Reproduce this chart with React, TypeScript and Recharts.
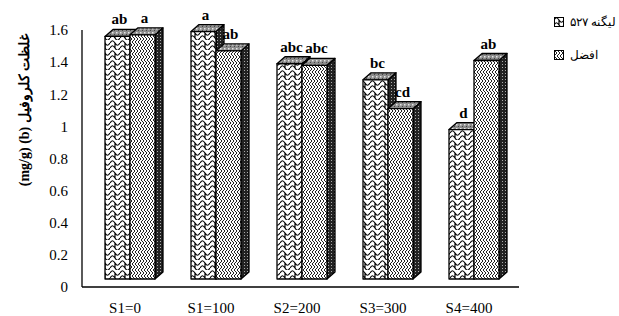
import { BarChart, Bar, XAxis, YAxis, LabelList } from "recharts";

const categories = ["S1=0", "S1=100", "S2=200", "S3=300", "S4=400"];
const ligValues = [1.56, 1.59, 1.39, 1.29, 0.98];
const afzValues = [1.57, 1.47, 1.38, 1.11, 1.41];
const ligLetters = ["ab", "a", "abc", "bc", "d"];
const afzLetters = ["a", "ab", "abc", "cd", "ab"];
const seriesNames = ["لیگنه ۵۲۷", "افضل"];
const yTicks = [0, 0.2, 0.4, 0.6, 0.8, 1, 1.2, 1.4, 1.6];

const data = categories.map((c, i) => ({
  name: c,
  lig: ligValues[i],
  afz: afzValues[i],
  ligL: ligLetters[i],
  afzL: afzLetters[i],
}));

const SHIFT = 5; // front face offset
const DX = 8; // depth to the right
const DY = 7; // depth upwards
const FLOOR = 8; // front face sits above the axis floor
const FONT = "Liberation Serif, Times New Roman, serif";

function make3D(frontFill: string) {
  return (props: any) => {
    const { x, y, width, height } = props;
    const fx = x + SHIFT;
    const fh = height - FLOOR;
    if (fh <= 0) return <g />;
    const top = `M${fx},${y} L${fx + DX},${y - DY} L${fx + width + DX},${y - DY} L${fx + width},${y} Z`;
    const side = `M${fx + width},${y} L${fx + width + DX},${y - DY} L${fx + width + DX},${y + fh - DY} L${fx + width},${y + fh} Z`;
    return (
      <g stroke="#000" strokeWidth={1.3} strokeLinejoin="round">
        <path d={side} fill="url(#sideFill)" />
        <path d={top} fill="url(#topFill)" />
        <rect x={fx} y={y} width={width} height={fh} fill={frontFill} />
      </g>
    );
  };
}

function letterLabel(props: any) {
  const { x, y, width, value } = props;
  return (
    <text
      x={x + SHIFT + width / 2 + 2}
      y={y - 12}
      textAnchor="middle"
      style={{ fontFamily: FONT, fontWeight: "bold", fontSize: 15 }}
      fill="#000"
    >
      {value}
    </text>
  );
}

function YLabel() {
  return (
    <text
      x={0}
      y={0}
      transform="translate(24, 110) rotate(-90)"
      textAnchor="middle"
      dominantBaseline="central"
      style={{ fontFamily: FONT, fontWeight: "bold", fontSize: 14 }}
      fill="#000"
      direction="ltr"
    >
      {"(mg/g) (b) غلظت کلروفیل"}
    </text>
  );
}

function Patterns() {
  return (
    <svg width={0} height={0} style={{ position: "absolute" }}>
      <defs>
        <pattern id="p1" width="10" height="10" patternUnits="userSpaceOnUse">
          <rect width="10" height="10" fill="#fff" />
          <path
            d="M0 3 C2 0 3 0 5 3 C7 6 8 6 10 3 M0 8 C2 5 3 5 5 8 M5 8 C7 11 8 11 10 8 M5 3 L5 8"
            fill="none"
            stroke="#000"
            strokeWidth={1.2}
          />
        </pattern>
        <pattern id="p2" width="6" height="6" patternUnits="userSpaceOnUse">
          <rect width="6" height="6" fill="#fff" />
          <path d="M0 0 L3 3 L0 6 M3 0 L6 3 L3 6" fill="none" stroke="#222" strokeWidth={1} />
        </pattern>
        <pattern id="topFill" width="4" height="4" patternUnits="userSpaceOnUse">
          <rect width="4" height="4" fill="#8c8c8c" />
          <rect x="0" y="0" width="1.5" height="1.5" fill="#e6e6e6" />
          <rect x="2" y="2" width="1" height="1" fill="#444" />
        </pattern>
        <pattern id="sideFill" width="3" height="3" patternUnits="userSpaceOnUse">
          <rect width="3" height="3" fill="#222" />
          <rect x="1" y="1" width="1" height="1" fill="#aaa" />
        </pattern>
      </defs>
    </svg>
  );
}

const legendFills = ["url(#p1)", "url(#p2)"];
const tickStyle = { fill: "#000", fontSize: 15, fontFamily: FONT };

export default function App() {
  return (
    <div style={{ position: "absolute", left: 0, top: 0, width: 619, height: 316, background: "#fff" }}>
      <Patterns />
      <BarChart
        width={619}
        height={316}
        data={data}
        margin={{ top: 30, right: 100, bottom: 0, left: 0 }}
        barSize={25}
        barGap={0}
        style={{ fontFamily: FONT }}
      >
        <XAxis
          dataKey="name"
          height={29}
          padding={{ left: 0, right: 7 }}
          tickLine={false}
          tickSize={0}
          tickMargin={15}
          axisLine={{ stroke: "#000", strokeWidth: 1.3 }}
          tick={tickStyle}
          interval={0}
        />
        <YAxis
          width={82}
          domain={[0, 1.6]}
          ticks={yTicks}
          tickLine={false}
          tickSize={0}
          tickMargin={14}
          axisLine={{ stroke: "#000", strokeWidth: 1.3 }}
          tick={tickStyle}
          tickFormatter={(v: number) => String(v)}
          label={{ content: () => <YLabel /> }}
        />
        <Bar dataKey="lig" name={seriesNames[0]} shape={make3D("url(#p1)")} isAnimationActive={false}>
          <LabelList dataKey="ligL" content={letterLabel} />
        </Bar>
        <Bar dataKey="afz" name={seriesNames[1]} shape={make3D("url(#p2)")} isAnimationActive={false}>
          <LabelList dataKey="afzL" content={letterLabel} />
        </Bar>
      </BarChart>
      <div
        style={{
          position: "absolute",
          left: 554,
          top: 13,
          fontFamily: FONT,
          fontSize: 12,
          color: "#000",
          whiteSpace: "nowrap",
        }}
      >
        {seriesNames.map((n, i) => (
          <div key={n} style={{ display: "flex", alignItems: "center", height: 18, marginBottom: 15 }}>
            <svg width={10} height={10} style={{ marginRight: 6, flexShrink: 0 }}>
              <rect x={0.5} y={0.5} width={9} height={9} fill={legendFills[i]} stroke="#000" strokeWidth={1} />
            </svg>
            <span dir="rtl">{n}</span>
          </div>
        ))}
      </div>
    </div>
  );
}
